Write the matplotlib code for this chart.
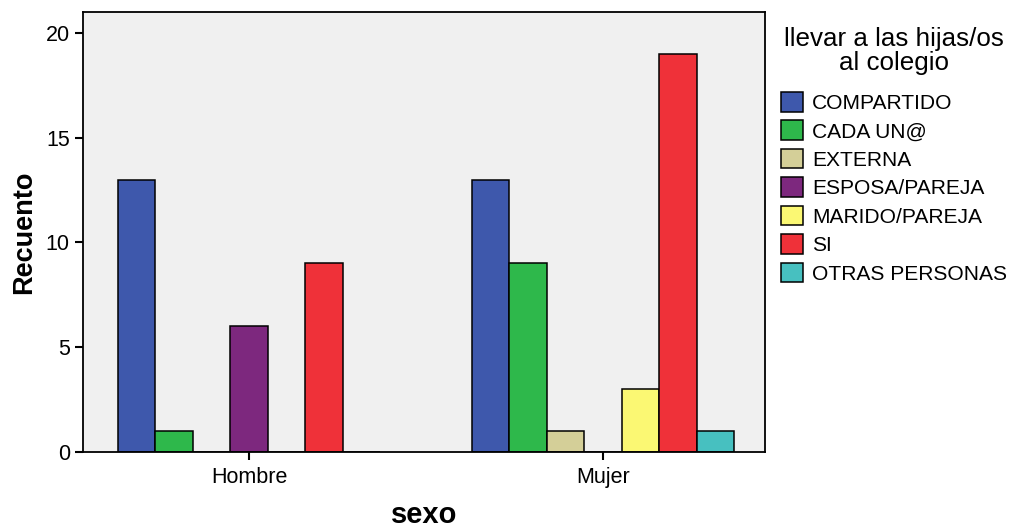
import numpy as np
import matplotlib
matplotlib.use("Agg")
import matplotlib.pyplot as plt

plt.rcParams['font.family'] = ['Liberation Sans', 'DejaVu Sans']

grupos = ['Hombre', 'Mujer']
categorias = ['COMPARTIDO', 'CADA UN@', 'EXTERNA', 'ESPOSA/PAREJA',
              'MARIDO/PAREJA', 'SI', 'OTRAS PERSONAS']
hombre = [13, 1, 0, 6, 0, 9, 0]
mujer = [13, 9, 1, 0, 3, 19, 1]
colores = ['#3e58ac', '#2eb84b', '#d4cf98', '#7d287e', '#fbf873', '#ef3139', '#47c0c0']

fig = plt.figure(figsize=(10.13, 5.31), dpi=100)
ax = fig.add_axes([83/1013, 79/531, 682/1013, 440/531])
ax.set_facecolor('#f0f0f0')

x = np.arange(len(grupos))
ancho = 0.106
barras = []
for i, cat in enumerate(categorias):
    alturas = [hombre[i], mujer[i]]
    b = ax.bar(x + (i - 3) * ancho, alturas, ancho, color=colores[i],
               edgecolor='black', linewidth=1.1, label=cat)
    barras.append(b)

ax.set_xlim(-0.469, 1.458)
ax.set_ylim(0, 21)
ax.set_yticks([0, 5, 10, 15, 20])
ax.set_xticks(x)
ax.set_xticklabels(grupos)
ax.tick_params(axis='both', labelsize=15.5, length=6, width=1.5, direction='out')
ax.tick_params(axis='x', pad=5)
for s in ax.spines.values():
    s.set_linewidth(1.3)

ax.set_ylabel('Recuento', fontsize=19.5, fontweight='bold', labelpad=6)
ax.set_xlabel('sexo', fontsize=21, fontweight='bold', labelpad=9)

leg = fig.legend(handles=barras, labels=categorias,
                 title='llevar a las hijas/os\nal colegio',
                 loc='upper left', bbox_to_anchor=(773/1013, 1 - 19/531),
                 frameon=False, fontsize=15.1, title_fontsize=18.7,
                 handlelength=1.05, handleheight=1.05, handletextpad=0.4,
                 labelspacing=0.36, borderaxespad=0)
leg._legend_box.align = 'center'
leg._legend_box.sep = 12
leg.get_title().set_multialignment('center')
leg.get_title().set_linespacing(1.0)
for p in leg.get_patches():
    p.set_edgecolor('black')

fig.savefig('out.png', dpi=100)
